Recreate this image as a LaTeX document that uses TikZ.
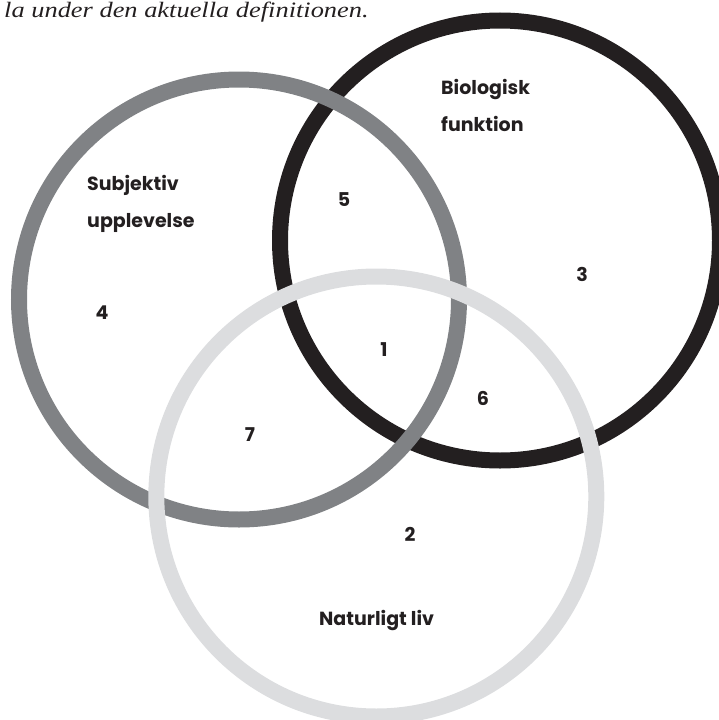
\documentclass[tikz,border=0pt]{standalone}
\usepackage{fontspec}
\setmainfont{Poppins}
\newfontfamily\notefont{Liberation Serif}
\definecolor{ringdark}{HTML}{231F20}
\definecolor{ringmid}{HTML}{808285}
\definecolor{ringlight}{HTML}{DCDDDF}

\begin{document}
\begin{tikzpicture}[x=1pt,y=-1pt]
    \tikzstyle{every node}+=[inner sep=0pt]
    \tikzstyle{ring}=[line width=16pt]
    \tikzstyle{setname}=[font=\fontsize{19}{37}\selectfont\bfseries, text=ringdark, align=left, anchor=base west]
    \tikzstyle{area}=[font=\fontsize{19}{22}\selectfont\bfseries, text=ringdark]
    \useasboundingbox (0,0) rectangle (719,720);
    % the three sets
    \draw [ring, ringdark] (500,240.5) circle (220pt);
    \draw [ring, ringmid] (239,299.5) circle (220pt);
    \draw [ring, ringlight] (376.3,496.5) circle (220pt);
    % caption line, cut at the left edge
    \node (note) [anchor=base west, xscale=1.2, font=\notefont\itshape\fontsize{22}{24}\selectfont, text=ringdark] at (4,17) {la under den aktuella definitionen.};
    % set names (base = last line)
    \node (subj) [setname] at (87,227) {Subjektiv\\upplevelse};
    \node (bio) [setname] at (441,131) {Biologisk\\funktion};
    \node (nat) [setname] at (319,625) {Naturligt liv};
    % regions
    \node (r1) [area] at (384,350) {1};
    \node (r2) [area] at (410,534) {2};
    \node (r3) [area] at (582,274) {3};
    \node (r4) [area] at (102,313) {4};
    \node (r5) [area] at (344,200) {5};
    \node (r6) [area] at (483,398) {6};
    \node (r7) [area] at (250,435) {7};
\end{tikzpicture}
\end{document}
